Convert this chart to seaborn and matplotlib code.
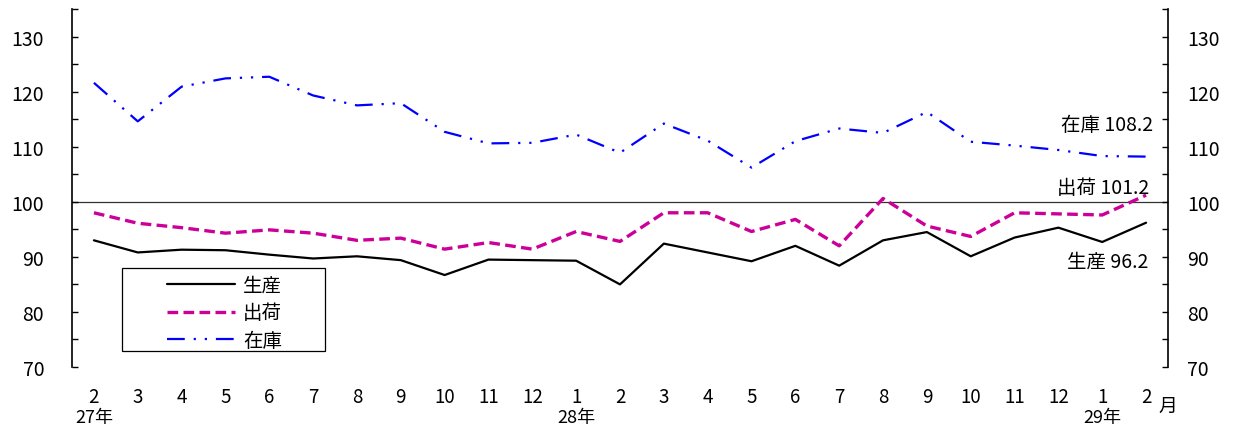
import matplotlib
matplotlib.use("Agg")
import matplotlib.pyplot as plt
import seaborn as sns
import numpy as np
import pandas as pd
from matplotlib.ticker import MultipleLocator
from matplotlib.patches import Rectangle

sns.set_theme(style="white")
plt.rcParams['font.family'] = ['Noto Sans CJK JP', 'DejaVu Sans']

months = ["2", "3", "4", "5", "6", "7", "8", "9", "10", "11", "12", "1",
          "2", "3", "4", "5", "6", "7", "8", "9", "10", "11", "12", "1", "2"]
year_labels = {0: "27年", 11: "28年", 23: "29年"}

production = [93.0, 90.8, 91.3, 91.2, 90.4, 89.7, 90.1, 89.4, 86.7, 89.5, 89.4, 89.3,
              85.0, 92.4, 90.8, 89.2, 92.0, 88.4, 93.0, 94.5, 90.1, 93.5, 95.3, 92.7, 96.2]
shipments = [98.0, 96.1, 95.3, 94.3, 94.9, 94.3, 93.0, 93.4, 91.4, 92.6, 91.4, 94.6,
             92.8, 98.0, 98.0, 94.6, 96.8, 92.0, 100.6, 95.6, 93.7, 98.0, 97.8, 97.6, 101.2]
inventory = [121.6, 114.6, 120.9, 122.4, 122.7, 119.3, 117.5, 117.9, 112.7, 110.6, 110.7, 112.2,
             108.9, 114.2, 111.1, 106.2, 111.0, 113.3, 112.5, 116.3, 110.9, 110.2, 109.4, 108.3, 108.2]

x = np.arange(len(months))
df = pd.DataFrame({"x": x, "生産": production, "出荷": shipments, "在庫": inventory})

fig = plt.figure(figsize=(12.33, 4.31), dpi=100)
ax = fig.add_axes([72/1233, 1-368/431, (1168-72)/1233, (368-10)/431])

sns.lineplot(data=df, x="x", y="生産", ax=ax, color="black", linewidth=1.6,
             label="生産", linestyle="-")
sns.lineplot(data=df, x="x", y="出荷", ax=ax, color="#CC0099", linewidth=2.4,
             label="出荷", linestyle=(0, (3.2, 1.6)))
sns.lineplot(data=df, x="x", y="在庫", ax=ax, color="#0000FF", linewidth=1.6,
             label="在庫", linestyle=(0, (8, 4, 1, 4, 1, 4)))

ax.axhline(100, color="#333333", linewidth=0.9, zorder=0)

ax.set_xlim(-0.5, len(months) - 0.5)
ax.set_ylim(70, 135)
ax.set_xlabel("")
ax.set_ylabel("")
ax.set_xticks(x)
ax.set_xticklabels(months)
ax.yaxis.set_minor_locator(MultipleLocator(5))
ax.set_yticks([70, 80, 90, 100, 110, 120, 130])

for s in ["top", "bottom", "right"]:
    ax.spines[s].set_visible(False)
ax.spines["left"].set_color("black")
ax.spines["left"].set_linewidth(1.2)

ax.tick_params(axis="x", length=0, pad=14, labelsize=13.5, colors="black")
ax.tick_params(axis="y", which="both", direction="in", length=4.5, width=1.0,
               left=True, pad=20, labelsize=14, colors="black")

ax2 = ax.twinx()
ax2.set_ylim(70, 135)
ax2.yaxis.set_minor_locator(MultipleLocator(5))
ax2.set_yticks([70, 80, 90, 100, 110, 120, 130])
for s in ["top", "bottom", "left"]:
    ax2.spines[s].set_visible(False)
ax2.spines["right"].set_color("black")
ax2.spines["right"].set_linewidth(1.2)
ax2.tick_params(axis="y", which="both", direction="in", length=4.5, width=1.0,
                right=True, pad=14, labelsize=14, colors="black")
ax2.grid(False)
ax.grid(False)

# year labels
for i, lab in year_labels.items():
    ax.text(i, (368-418)/358, lab, transform=ax.get_xaxis_transform(), ha="center", va="center",
            fontsize=13, color="black")
ax.text(1.0, (368-406)/358, "月", transform=ax.transAxes, ha="center", va="center",
        fontsize=13.5, color="black")

# end labels
last = len(months) - 1
ax.text(last + 0.15, 114.0, "在庫 108.2", ha="right", va="center", fontsize=14, color="black")
ax.text(last + 0.08, 102.6, "出荷 101.2", ha="right", va="center", fontsize=14, color="black")
ax.text(last + 0.05, 89.2, "生産 96.2", ha="right", va="center", fontsize=14, color="black")

leg = ax.legend(loc="upper left", bbox_to_anchor=(167/1233, 1-276/431), bbox_transform=fig.transFigure,
                frameon=False, fontsize=14, handlelength=3.5, handletextpad=0.4,
                borderpad=0, labelspacing=0.33, borderaxespad=0)
for t in leg.get_texts():
    t.set_color("black")

fig.patches.append(Rectangle((122/1233, 1-352/431), (325-122)/1233, (352-269)/431,
                             transform=fig.transFigure, fill=False, edgecolor="black",
                             linewidth=0.9, zorder=5))

fig.savefig("out.png", dpi=100)
